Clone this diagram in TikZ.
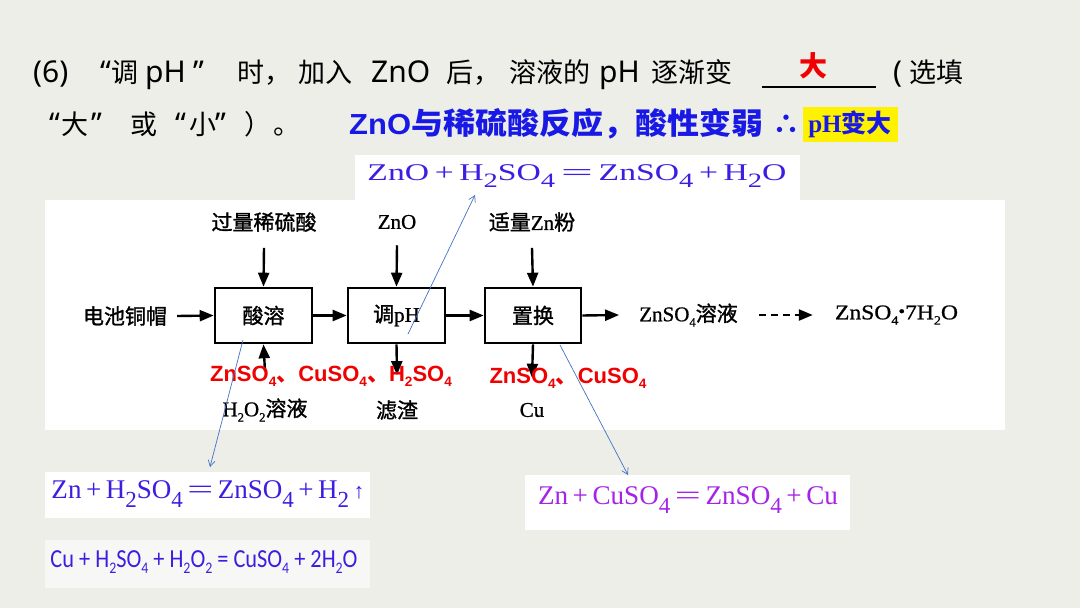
\documentclass[tikz,border=0pt]{standalone}
\usepackage{fontspec}
\setmainfont{Liberation Serif}
\newfontfamily\cjk{Noto Sans CJK SC}
\newfontfamily\cjkd{Noto Sans CJK SC}[FakeBold=1.3]
\newfontfamily\dser{Liberation Serif}[FakeBold=0.8]
\newfontfamily\qlat{Noto Sans}
\newfontfamily\arialf{Liberation Sans}
\newfontfamily\calib{Carlito}
\usetikzlibrary{arrows.meta}
\definecolor{bgcol}{RGB}{236,238,231}
\definecolor{qblue}{RGB}{25,25,230}
\definecolor{eqblue}{RGB}{60,30,225}
\definecolor{eqpurple}{RGB}{165,35,230}
\definecolor{linkblue}{RGB}{68,114,196}
\definecolor{redlab}{RGB}{240,0,0}
\newcommand\chsub[1]{\raisebox{-0.32em}{\scalebox{0.85}{#1}}}
\newcommand\dsub[1]{\raisebox{-0.25em}{\scalebox{0.6}{#1}}}
\newcommand\rsub[1]{\raisebox{-0.22em}{\scalebox{0.62}{#1}}}
\newcommand\dbleq{\,\scalebox{1.7}[1]{=}\,}
\begin{document}
\begin{tikzpicture}[x=1pt,y=-1pt,
  flow/.style={line width=2.4pt,-{Triangle[length=14pt,width=11pt]}},
  stepbox/.style={draw,line width=2.6pt,inner sep=0pt,font=\cjkd\fontsize{21}{24}\selectfont},
  dtext/.style={inner sep=0pt,font=\dser\fontsize{21}{24}\selectfont},
  dcjk/.style={inner sep=0pt,font=\cjkd\fontsize{21}{24}\selectfont},
  link/.style={draw=linkblue,line width=0.7pt,-{Straight Barb[length=6pt,width=7pt]}},
  eqbox/.style={fill=white,inner sep=0pt},
  qc/.style={inner sep=0pt,anchor=base west,font=\cjk\fontsize{27}{30}\selectfont},
  ql/.style={inner sep=0pt,anchor=base west,font=\qlat\fontsize{30}{32}\selectfont},
  redl/.style={inner sep=0pt,text=redlab,font=\arialf\bfseries\fontsize{22}{24}\selectfont}
]
\useasboundingbox (0,0) rectangle (1080,608);
\fill[bgcol] (0,0) rectangle (1080,608);

% question text, line 1
\node[ql] (a1) at (33,82) {(6)};
\node[ql] (a2) at (100,82) {“};
\node[qc] (a3) at (111,82) {调};
\node[ql] (a4) at (145,82) {pH};
\node[ql] (a5) at (193,82) {”};
\node[qc] (a6) at (237,82) {时，};
\node[qc] (a7) at (298,82) {加入};
\node[ql] (a8) at (371,82) {ZnO};
\node[qc] (a9) at (446,82) {后，};
\node[qc] (a10) at (509,82) {溶液的};
\node[ql] (a11) at (599,82) {pH};
\node[qc] (a12) at (651,82) {逐渐变};
\node[ql] (a13) at (893,82) {(};
\node[qc] (a14) at (909,82) {选填};
\coordinate (ul1) at (762,87);
\coordinate (ul2) at (876,87);
\draw[line width=1.1pt] (ul1) -- (ul2);
\node[inner sep=0pt,text=redlab,font=\cjk\bfseries\fontsize{28}{30}\selectfont] (ans) at (813,66) {大};

% line 2
\node[ql] (b1) at (49,134) {“};
\node[qc] (b2) at (61,134) {大};
\node[ql] (b3) at (91,134) {”};
\node[qc] (b4) at (130,134) {或};
\node[ql] (b5) at (175,134) {“};
\node[qc] (b6) at (189,134) {小};
\node[ql] (b7) at (215,134) {”};
\node[qc] (b8) at (244,134) {）};
\node[qc] (b9) at (273,134) {。};
\node[inner sep=0pt,anchor=base west,text=qblue] (b10) at (349,134)
  {\resizebox{414pt}{\height}{{\arialf\bfseries\fontsize{29}{30}\selectfont ZnO}{\cjk\bfseries\fontsize{30}{30}\selectfont 与稀硫酸反应，酸性变弱}}};
\node[inner sep=0pt,text=qblue,font=\cjk\bfseries\fontsize{28}{30}\selectfont] (there) at (786,125) {∴};
\node[fill=yellow,minimum width=95pt,minimum height=35pt,inner sep=0pt,text=qblue,font=\bfseries\fontsize{25}{26}\selectfont] (ph) at (850,124) {pH{\cjk 变大}};

% diagram area
\fill[white] (45,200) rectangle (1005,430);
\fill[white] (355,155) rectangle (800,200);

\node[stepbox,minimum width=97pt,minimum height=55pt] (s1) at (263.5,315.5) {酸溶};
\node[stepbox,minimum width=97pt,minimum height=55pt] (s2) at (396.5,315.5) {调{\dser pH}};
\node[stepbox,minimum width=96pt,minimum height=55pt] (s3) at (533,315.5) {置换};

\node[dcjk] (src) at (125,316) {电池铜帽};
\node[dtext] (prod) at (688.5,315) {ZnSO\dsub{4}{\cjkd 溶液}};
\node[dtext] (fin) at (896.5,315) {\resizebox{123pt}{\height}{ZnSO\dsub{4}\raisebox{0.12em}{\scalebox{0.8}{•}}7H\dsub{2}O}};
\node[dcjk] (in1) at (264,222) {过量稀硫酸};
\node[dtext] (in2) at (397,222) {ZnO};
\node[dtext] (in3) at (532,222) {{\cjkd 适量}Zn{\cjkd 粉}};
\node[dtext] (out1) at (265,410) {H\dsub{2}O\dsub{2}{\cjkd 溶液}};
\node[dcjk] (out2) at (397,410) {滤渣};
\node[dtext] (out3) at (532,410) {Cu};

\draw[flow] ([xshift=10pt]src.east) -- (s1.west);
\draw[flow] (s1) -- (s2);
\draw[flow] (s2) -- (s3);
\draw[flow] (s3.east) -- ([xshift=-20pt]prod.west);
\draw[flow,dash pattern=on 7pt off 5pt] ([xshift=21pt]prod.east) -- ([xshift=-22pt]fin.west);
\draw[flow] ([yshift=-16pt]in1.south) -- (s1.north);
\draw[flow] ([yshift=-16pt]in2.south) -- (s2.north);
\draw[flow] ([yshift=-16pt]in3.south) -- (s3.north);
\draw[flow] ([yshift=27pt]out1.north) -- (s1.south);
\draw[flow] (s2.south) -- ([yshift=25pt]out2.north);
\draw[flow] (s3.south) -- ([yshift=25pt]out3.north);

% red labels
\node[redl] (r1) at (331,376) {ZnSO\rsub{4}{\cjk 、}CuSO\rsub{4}{\cjk 、}H\rsub{2}SO\rsub{4}};
\node[redl] (r2) at (568,378) {ZnSO\rsub{4}{\cjk 、}CuSO\rsub{4}};

% equations
\fill[white] (45,472) rectangle (370,518);
\fill[white!60!bgcol] (45,540) rectangle (370,588);
\fill[white] (525,475) rectangle (850,530);
\node[eqbox,text=eqblue,font=\fontsize{24}{26}\selectfont] (eq1) at (577,176)
  {\resizebox{419pt}{\height}{ZnO\,+\,H\chsub{2}SO\chsub{4}\dbleq ZnSO\chsub{4}\,+\,H\chsub{2}O}};
\node[eqbox,text=eqblue,font=\fontsize{27}{29}\selectfont] (eq2) at (208,494)
  {\resizebox{313pt}{\height}{Zn\,+\,H\chsub{2}SO\chsub{4}\dbleq ZnSO\chsub{4}\,+\,H\chsub{2}\,{\arialf\scalebox{0.8}{↑}}}};
\node[eqbox,fill=none,text=eqblue,font=\calib\fontsize{26}{28}\selectfont] (eq3) at (204,562)
  {\resizebox{307pt}{\height}{Cu + H\rsub{2}SO\rsub{4} + H\rsub{2}O\rsub{2} = CuSO\rsub{4} + 2H\rsub{2}O}};
\node[eqbox,text=eqpurple,font=\fontsize{27}{29}\selectfont] (eq4) at (688,500)
  {\resizebox{300pt}{\height}{Zn\,+\,CuSO\chsub{4}\dbleq ZnSO\chsub{4}\,+\,Cu}};

% links
\coordinate (l1a) at (408,334);
\coordinate (l1b) at (475,195);
\coordinate (l2a) at (243,340);
\coordinate (l2b) at (210,467);
\coordinate (l3a) at (560,345);
\coordinate (l3b) at (628,475);
\draw[link] (l1a) -- (l1b);
\draw[link] (l2a) -- (l2b);
\draw[link] (l3a) -- (l3b);
\end{tikzpicture}
\end{document}
